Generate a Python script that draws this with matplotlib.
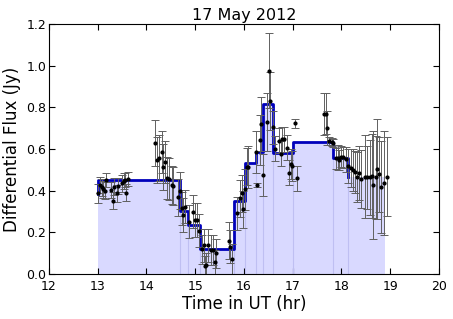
"""
    Light curve with Bayesian blocks, 17 May 2012
"""

import numpy as np
import matplotlib
matplotlib.use('Agg')
import matplotlib.pyplot as plt

# block edges (hr) and block levels (Jy)
edges = [13.0, 14.69, 14.86, 15.1, 15.8, 16.03, 16.25, 16.4, 16.6, 17.0, 17.83, 18.13, 18.9]
levels = [0.45, 0.30, 0.235, 0.12, 0.35, 0.535, 0.585, 0.815, 0.58, 0.635, 0.557, 0.465]
start_level = 0.385

# measurements
t = [13.01, 13.05, 13.09, 13.11, 13.15, 13.18, 13.27, 13.31, 13.33, 13.39, 13.42, 13.49, 13.53, 13.56, 13.59, 13.63,
     14.17, 14.22, 14.26, 14.31, 14.35, 14.38, 14.43, 14.47, 14.52, 14.55, 14.65, 14.69,
     14.72, 14.75, 14.79, 14.88, 14.96, 14.99, 15.03, 15.08,
     15.13, 15.18, 15.2, 15.22, 15.27, 15.32, 15.36, 15.41, 15.43, 15.70, 15.71, 15.76,
     15.85, 15.92, 15.95, 15.99, 16.02, 16.07, 16.09, 16.25, 16.27,
     16.33, 16.36, 16.40, 16.47, 16.51, 16.53, 16.59, 16.64, 16.72, 16.75, 16.79, 16.83, 16.88,
     16.93, 16.96, 16.99, 17.05, 17.08,
     17.65, 17.68, 17.71, 17.75, 17.80, 17.83, 17.89, 17.92, 17.96, 18.00, 18.03, 18.09,
     18.14, 18.19, 18.23, 18.28, 18.32, 18.36, 18.41, 18.48, 18.53, 18.58, 18.62, 18.65,
     18.71, 18.73, 18.78, 18.82, 18.88, 18.93]
flux = [0.387, 0.427, 0.416, 0.406, 0.40, 0.451, 0.403, 0.352, 0.419, 0.387, 0.422, 0.435, 0.446, 0.451, 0.39, 0.455,
        0.627, 0.547, 0.558, 0.587, 0.515, 0.539, 0.462, 0.456, 0.427, 0.422, 0.368, 0.40,
        0.315, 0.283, 0.323, 0.251, 0.299, 0.259, 0.259, 0.208,
        0.119, 0.138, 0.038, 0.043, 0.138, 0.115, 0.115, 0.056, 0.099, 0.16, 0.131, 0.072,
        0.291, 0.363, 0.387, 0.31, 0.406, 0.515, 0.515, 0.587, 0.427,
        0.643, 0.718, 0.475, 0.728, 0.976, 0.83, 0.704, 0.60, 0.64, 0.576, 0.646, 0.646, 0.606,
        0.486, 0.528, 0.518, 0.723, 0.459,
        0.768, 0.77, 0.70, 0.638, 0.632, 0.63, 0.555, 0.557, 0.547, 0.563, 0.56, 0.55,
        0.518, 0.509, 0.499, 0.49, 0.467, 0.486, 0.456, 0.467, 0.464, 0.464, 0.47, 0.427,
        0.464, 0.503, 0.479, 0.419, 0.435, 0.467]
err = [0.045, 0.04, 0.04, 0.04, 0.04, 0.035, 0.04, 0.04, 0.04, 0.04, 0.04, 0.04, 0.04, 0.035, 0.04, 0.035,
       0.11, 0.11, 0.11, 0.10, 0.11, 0.10, 0.10, 0.10, 0.09, 0.09, 0.09, 0.09,
       0.08, 0.08, 0.08, 0.08, 0.08, 0.08, 0.08, 0.08,
       0.07, 0.08, 0.05, 0.06, 0.08, 0.07, 0.07, 0.06, 0.07, 0.09, 0.08, 0.07,
       0.08, 0.09, 0.09, 0.09, 0.10, 0.09, 0.10, 0.10, 0.01,
       0.12, 0.13, 0.10, 0.14, 0.18, 0.14, 0.08, 0.06, 0.06, 0.06, 0.06, 0.06, 0.06,
       0.06, 0.07, 0.07, 0.02, 0.06,
       0.10, 0.10, 0.08, 0.02, 0.02, 0.02, 0.05, 0.06, 0.05, 0.05, 0.05, 0.06,
       0.08, 0.09, 0.10, 0.10, 0.12, 0.13, 0.14, 0.20, 0.15, 0.18, 0.20, 0.26,
       0.20, 0.24, 0.18, 0.22, 0.25, 0.19]

fig = plt.figure(figsize=(4.53, 3.19), dpi=100)
ax = fig.add_axes([0.108, 0.141, 0.861, 0.784])

# shaded blocks, faint seams between them
for i in range(len(levels)):
    ax.fill_between([edges[i], edges[i + 1]], 0, levels[i],
                    facecolor=(0, 0, 1, 0.15), edgecolor='none')
    if i > 0:
        ax.plot([edges[i], edges[i]], [0, min(levels[i - 1], levels[i])],
                color=(0.75, 0.75, 0.95), linewidth=0.8)

# block outline (step)
sx, sy = [edges[0]], [start_level]
for i in range(len(levels)):
    sx += [edges[i], edges[i + 1]] if i < len(levels) - 1 else [edges[i]]
    sy += [levels[i], levels[i]] if i < len(levels) - 1 else [levels[i]]
ax.plot(sx, sy, color='#0000bb', linewidth=2)

ax.errorbar(t, flux, yerr=err, fmt='k.', ecolor='#606060', elinewidth=0.7,
            capsize=3, capthick=0.7, markersize=4)

ax.set_xlim(12, 20)
ax.set_ylim(0, 1.2)
ax.set_xticks(np.arange(12, 21, 1))
ax.set_yticks(np.arange(0, 1.21, 0.2))
ax.tick_params(direction='in', top=True, right=True, labelsize=9, length=4)
ax.tick_params(axis='x', pad=4)
ax.tick_params(axis='y', pad=2)
ax.set_xlabel('Time in UT (hr)', fontsize=12, labelpad=2)
ax.set_ylabel('Differential Flux (Jy)', fontsize=12, labelpad=4)
ax.set_title('17 May 2012', fontsize=11.5, pad=3)

fig.savefig('out.png', dpi=100)
